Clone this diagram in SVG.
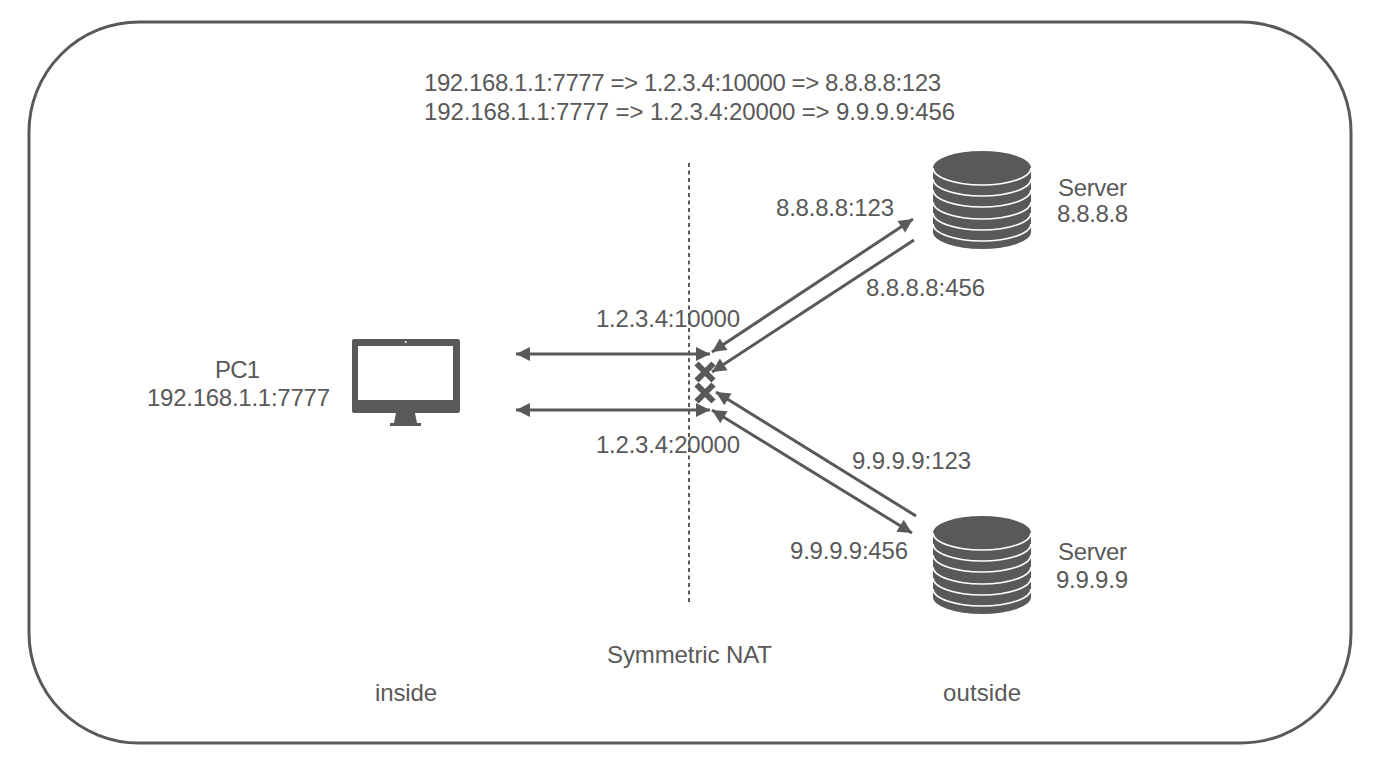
<svg xmlns="http://www.w3.org/2000/svg" width="1380" height="778" viewBox="0 0 1380 778">
<style>
text{font-family:"Liberation Sans",Arial,sans-serif;font-size:24px;fill:#595959}
.c{fill:none;stroke:#595959;stroke-width:3}
.w{fill:none;stroke:#fff;stroke-width:1.6}
.d{fill:#595959}
</style>
<defs>
<marker id="a" viewBox="0 0 16 16" refX="15" refY="8" markerUnits="userSpaceOnUse" markerWidth="16" markerHeight="16" orient="auto-start-reverse"><path d="M1 1L15 8L1 15Z" fill="#595959"/></marker>
<g id="db">
<path class="d" d="M933 168A49 17 0 0 1 1031 168V232A49 17 0 0 1 933 232Z"/>
<path class="w" d="M933 168A49 17 0 0 0 1031 168M933 179A49 17 0 0 0 1031 179M933 190A49 17 0 0 0 1031 190M933 202A49 17 0 0 0 1031 202M933 213A49 17 0 0 0 1031 213M933 224A49 17 0 0 0 1031 224"/>
</g>
</defs>
<rect width="1380" height="778" fill="#fff"/>
<rect id="frame" x="29" y="22" width="1322" height="721" rx="110" ry="110" fill="none" stroke="#595959" stroke-width="3"/>
<g id="connectors">
<path d="M689 163V603" fill="none" stroke="#595959" stroke-width="2" stroke-dasharray="4 3.500"/>
<path class="c" d="M516 354H710" marker-start="url(#a)" marker-end="url(#a)"/>
<path class="c" d="M516 410H710" marker-start="url(#a)" marker-end="url(#a)"/>
<path class="c" d="M712 352L913 219" marker-start="url(#a)" marker-end="url(#a)"/>
<path class="c" d="M914 240L712 372" marker-end="url(#a)"/>
<path class="c" d="M916 516L716 392" marker-end="url(#a)"/>
<path class="c" d="M712 410L912 533" marker-start="url(#a)" marker-end="url(#a)"/>
</g>
<g id="nat">
<path fill="none" stroke="#595959" stroke-width="6" d="M696.500 363.500L713.500 380.500M713.500 363.500L696.500 380.500M696.500 384.500L713.500 401.500M713.500 384.500L696.500 401.500"/>
</g>
<g id="pc1">
<path class="d" fill-rule="evenodd" d="M354 339H458Q460 339 460 341V411Q460 413 458 413H354Q352 413 352 411V341Q352 339 354 339ZM358 346V400H453V346Z"/>
<path class="d" d="M396 413H415L417 423H421V426H390V423H394Z"/>
<circle cx="405.700" cy="342" r="1" fill="#fff"/>
<text x="215" y="378" textLength="45">PC1</text>
<text x="147" y="406" textLength="183">192.168.1.1:7777</text>
</g>
<g id="server1">
<use href="#db"/>
<text x="1058" y="196" textLength="69">Server</text>
<text x="1057" y="222" textLength="71">8.8.8.8</text>
</g>
<g id="server2">
<use href="#db" y="365"/>
<text x="1058" y="560" textLength="69">Server</text>
<text x="1056" y="588" textLength="72">9.9.9.9</text>
</g>
<g id="labels">
<text x="424" y="91" textLength="517">192.168.1.1:7777 =&gt; 1.2.3.4:10000 =&gt; 8.8.8.8:123</text>
<text x="424" y="120" textLength="531">192.168.1.1:7777 =&gt; 1.2.3.4:20000 =&gt; 9.9.9.9:456</text>
<text x="776" y="216" textLength="118">8.8.8.8:123</text>
<text x="866" y="296" textLength="119">8.8.8.8:456</text>
<text x="596" y="327" textLength="144">1.2.3.4:10000</text>
<text x="596" y="453" textLength="144">1.2.3.4:20000</text>
<text x="852" y="469" textLength="119">9.9.9.9:123</text>
<text x="790" y="559" textLength="118">9.9.9.9:456</text>
<text x="607" y="663" textLength="165">Symmetric NAT</text>
<text x="375" y="701" textLength="62">inside</text>
<text x="943" y="701" textLength="78">outside</text>
</g>
</svg>
